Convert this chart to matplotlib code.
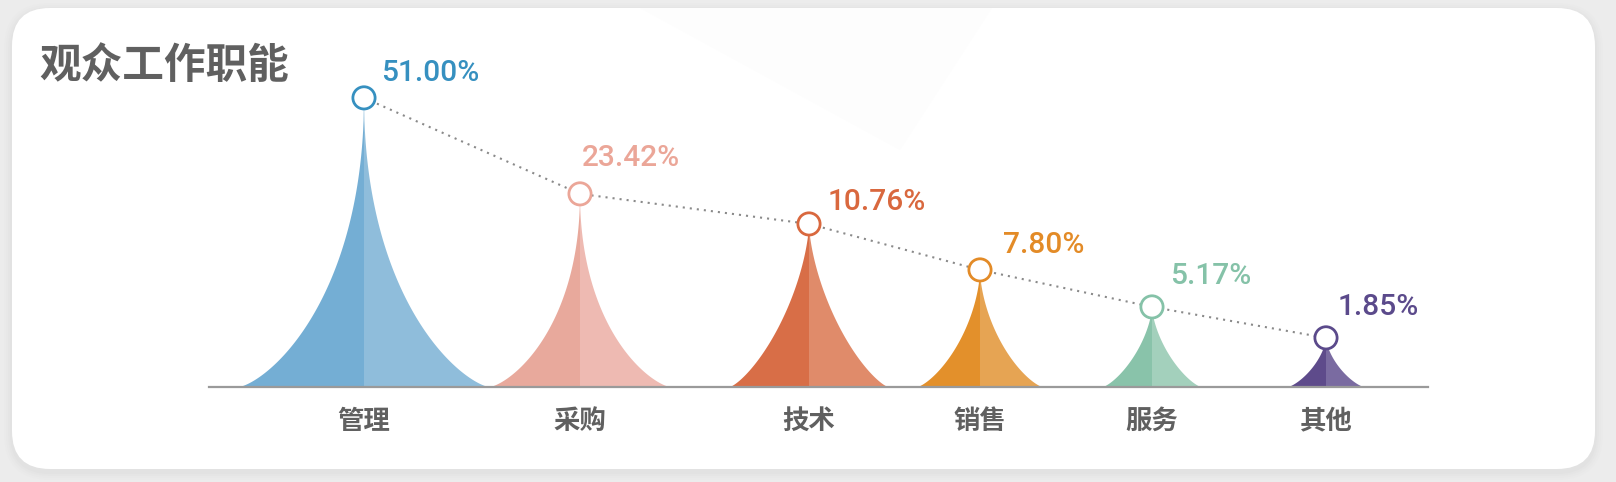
import numpy as np
import matplotlib.pyplot as plt
from matplotlib.patches import FancyBboxPatch, Polygon

# data
categories = ['管理', '采购', '技术', '销售', '服务', '其他']
shares = [51.00, 23.42, 10.76, 7.80, 5.17, 1.85]
# drawn peak height relative to the tallest peak (the design is not to scale)
peak_level = [100, 66.8, 56.4, 40.5, 27.7, 17.0]

dark = ['#74AED4', '#E8A99C', '#D86E47', '#E3902B', '#89C3AA', '#5E4B8B']
light = ['#8FBDDB', '#EEBAB2', '#E08B6A', '#E6A453', '#A3D0BC', '#7A6BA1']
accent = ['#3690C0', '#EBA698', '#D9683E', '#E38B27', '#85C2A8', '#5B4A8B']

# layout (pixel-like units of the plot area)
x_pos = [364, 580, 809, 980, 1152, 1326]
label_off = [(17, 25), (2, 36), (19, 22), (23, 25), (18, 31), (12, 31)]  # px
fullness = [0, 0, 1.0, 0.7, 1.0, 1.0]  # 0 = slim needle, 1 = fuller spike

W, H = 1616, 482
fig = plt.figure(figsize=(W / 100, H / 100), dpi=100)
fig.patch.set_facecolor('#ECECEC')

# background card
bg = fig.add_axes([0, 0, 1, 1])
bg.set_xlim(0, W)
bg.set_ylim(H, 0)
bg.axis('off')
for i, a in enumerate([0.025, 0.03, 0.04, 0.05]):
    grow = 8 - 2 * i
    bg.add_patch(FancyBboxPatch((12 - grow, 8 - grow + 3), 1583 + 2 * grow, 461 + 2 * grow,
                                boxstyle='round,pad=0,rounding_size=%d' % (38 + grow),
                                fc='#b0b0b0', ec='none', alpha=a))
bg.add_patch(FancyBboxPatch((12, 8), 1583, 461, boxstyle='round,pad=0,rounding_size=38',
                            fc='white', ec='none'))
bg.add_patch(Polygon([(640, 8), (992, 8), (900, 150)], closed=True, fc='#FDFDFD', ec='none'))

bg.text(39, 66, '观众工作职能', fontsize=30, fontweight='bold', color='#606060',
        va='center', ha='left', family=['Noto Sans CJK SC', 'DejaVu Sans'])

# main plot
ax = fig.add_axes([209 / W, (H - 387) / H, (1428 - 209) / W, 327 / H])
ax.set_xlim(209, 1428)
ax.set_ylim(0, 113.1)
ax.patch.set_alpha(0)


def spike_half(cx, hw, h, side, w):
    # concave spike side: u = (1 - t^p)^q
    t = np.linspace(0, 1, 300)
    p = 0.5 + 0.15 * w
    q = 1.37 - 0.07 * w
    u = (1 - t ** p) ** q
    xs = np.r_[cx, cx + side * hw * t]
    ys = np.r_[0, h * u]
    return xs, ys


for i, lvl in enumerate(peak_level):
    hw = 20 + 1.05 * lvl
    xs, ys = spike_half(x_pos[i], hw, lvl, -1, fullness[i])
    ax.fill(xs, ys, color=dark[i], lw=0, zorder=2)
    xs, ys = spike_half(x_pos[i], hw, lvl, 1, fullness[i])
    ax.fill(xs, ys, color=light[i], lw=0, zorder=2)

ax.plot(x_pos, peak_level, color='#8A8A8A', lw=1.5, ls=(0, (1, 2.4)), zorder=3)
ax.scatter(x_pos, peak_level, s=16 ** 2, facecolor='white', edgecolor=accent,
           linewidth=2.0, zorder=5, clip_on=False)

for i, v in enumerate(shares):
    dx, dy = label_off[i]
    ax.annotate('%.2f%%' % v, (x_pos[i], peak_level[i]), xytext=(dx * 0.72, dy * 0.72),
                textcoords='offset points', ha='left', va='center', fontsize=21.5,
                color=accent[i], family='Roboto', fontweight='medium')

ax.set_xticks(x_pos, categories)
ax.tick_params(axis='x', length=0, pad=15)
ax.set_yticks([])
for lbl in ax.get_xticklabels():
    lbl.set_fontfamily(['Noto Sans CJK SC', 'DejaVu Sans'])
    lbl.set_fontweight('bold')
    lbl.set_fontsize(19)
    lbl.set_color('#606060')
for sp in ['top', 'left', 'right']:
    ax.spines[sp].set_visible(False)
ax.spines['bottom'].set_color('#9A9A9A')
ax.spines['bottom'].set_linewidth(1.6)

fig.savefig('out.png', dpi=100, facecolor=fig.get_facecolor())
